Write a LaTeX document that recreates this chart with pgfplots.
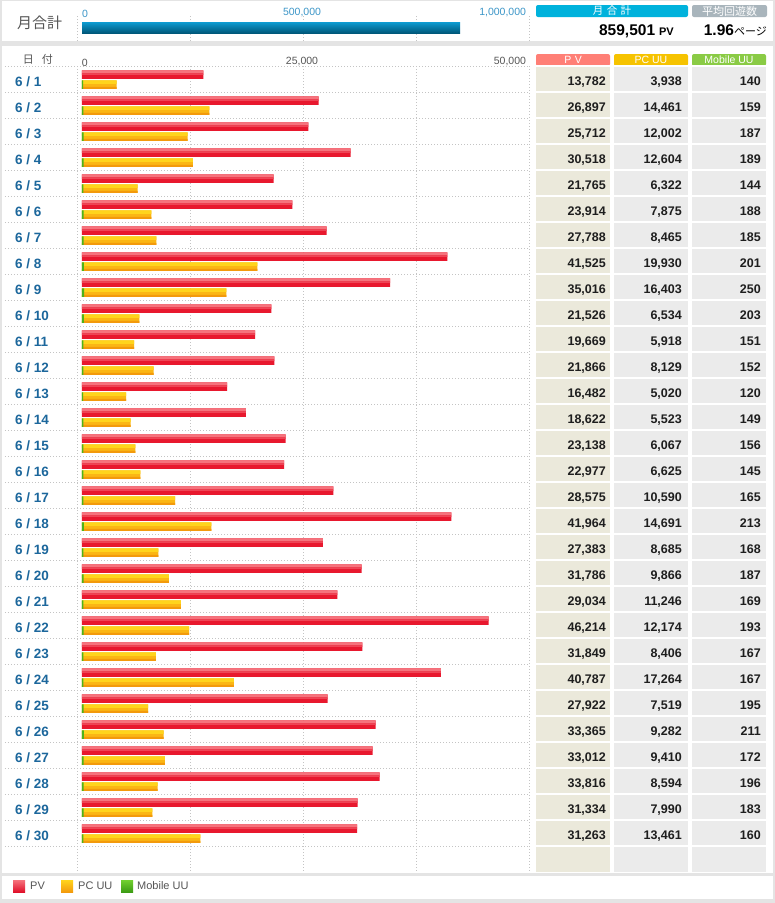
\documentclass[border=0pt]{standalone}
\usepackage{pgfplots}
\pgfplotsset{compat=1.18}
\usepackage{pgfplotstable}
\usepackage{fontspec}
\setmainfont{Liberation Sans}
\newfontfamily\jp{Noto Sans CJK JP}

\definecolor{bggray}{HTML}{E4E4E4}
\definecolor{gridc}{HTML}{C4C4C4}
\definecolor{datec}{HTML}{1C679C}
\definecolor{tickc}{HTML}{555555}
\definecolor{toptickc}{HTML}{3C96C8}
\definecolor{pvtop}{HTML}{F6737D}
\definecolor{pvmid}{HTML}{E8182E}
\definecolor{pvbot}{HTML}{E0102A}
\definecolor{pctop}{HTML}{FFD41C}
\definecolor{pcmid}{HTML}{FBB614}
\definecolor{pcbot}{HTML}{F39A0C}
\definecolor{motop}{HTML}{72D030}
\definecolor{momid}{HTML}{4CB41C}
\definecolor{mobot}{HTML}{3C9C14}
\definecolor{tottop}{HTML}{0E9CD2}
\definecolor{totbot}{HTML}{00587A}
\definecolor{pvhead}{HTML}{FF7F76}
\definecolor{pchead}{HTML}{F6C300}
\definecolor{mohead}{HTML}{8ACB45}
\definecolor{sumhead}{HTML}{00B2DC}
\definecolor{avghead}{HTML}{A9B5BC}
\definecolor{pvcell}{HTML}{EBE9DB}
\definecolor{cellg}{HTML}{EBEBEB}
\definecolor{valc}{HTML}{1E1E1E}

\pgfplotsset{
  sq legend/.style 2 args={legend image code/.code={\path[top color=#1, bottom color=#2] (0pt,-6pt) rectangle (12pt,6pt);}},
  dotgrid/.style={major grid style={gridc, dash pattern=on 1pt off 2pt}},
}

% day, page views, PC unique users, mobile unique users
\pgfplotstableread{
row pv pc mob
1 13782 3938 140
2 26897 14461 159
3 25712 12002 187
4 30518 12604 189
5 21765 6322 144
6 23914 7875 188
7 27788 8465 185
8 41525 19930 201
9 35016 16403 250
10 21526 6534 203
11 19669 5918 151
12 21866 8129 152
13 16482 5020 120
14 18622 5523 149
15 23138 6067 156
16 22977 6625 145
17 28575 10590 165
18 41964 14691 213
19 27383 8685 168
20 31786 9866 187
21 29034 11246 169
22 46214 12174 193
23 31849 8406 167
24 40787 17264 167
25 27922 7519 195
26 33365 9282 211
27 33012 9410 172
28 33816 8594 196
29 31334 7990 183
30 31263 13461 160
}\daily

\begin{document}
\begin{tikzpicture}[x=1pt,y=-1pt]
% panels
\fill[bggray] (0,0) rectangle (775,903);
\fill[white] (2,1) rectangle (773,41);
\fill[white] (2,46) rectangle (773,873);
\fill[white] (2,876) rectangle (773,899);

% top panel texts
\node[anchor=center, inner sep=0pt, text=tickc] at (39.5,23)
  {\jp\fontsize{15}{16}\selectfont 月合計};
\fill[sumhead, rounded corners=2pt] (536,5) rectangle (688,17);
\fill[avghead, rounded corners=2pt] (692,5) rectangle (767,17);
\node[text=white, inner sep=0pt] at (612,11) {\jp\fontsize{10.5}{11}\selectfont 月\,\,合\,\,計};
\node[text=white, inner sep=0pt] at (729.5,11) {\jp\fontsize{11}{11}\selectfont 平均回遊数};
\node[anchor=base east, inner sep=0pt] at (674,35.5)
  {\fontsize{15.5}{16}\selectfont\bfseries 859,501\hspace{4pt}\fontsize{11}{12}\selectfont PV};
\node[anchor=base east, inner sep=0pt] at (767,35.5)
  {\fontsize{15.5}{16}\selectfont\bfseries 1.96\fontsize{11}{12}\selectfont\mdseries\jp ページ};

% main panel header
\node[anchor=base, inner sep=0pt, text=tickc] at (38,63.5)
  {\jp\fontsize{11}{12}\selectfont 日\hspace{8pt}付};

% table cells
\fill[pvcell] (536,66) rectangle (610,872);
\fill[cellg] (614,66) rectangle (688,872);
\fill[cellg] (692,66) rectangle (766,872);
\fill[pvhead, rounded corners=2pt] (536,54) rectangle (610,66);
\fill[pchead, rounded corners=2pt] (614,54) rectangle (688,66);
\fill[mohead, rounded corners=2pt] (692,54) rectangle (766,66);
\node[text=white, inner sep=0pt] at (573,60) {\fontsize{10.5}{11}\selectfont P\,\,V};
\node[text=white, inner sep=0pt] at (651,60) {\fontsize{10.5}{11}\selectfont PC UU};
\node[text=white, inner sep=0pt] at (729,60) {\fontsize{10.5}{11}\selectfont Mobile UU};

% monthly total
\begin{axis}[
  at={(77pt,-16pt)}, anchor=north west,
  scale only axis, width=452pt, height=25pt,
  xmin=-11363.64, xmax=1015909.1, ymin=0, ymax=25,
  axis line style={draw=none}, major tick length=0pt,
  scaled x ticks=false,
  xticklabel pos=upper,
  xtick={0,500000,1000000},
  xticklabels={\rlap{0},{500,000},\llap{1,000,000\kern-4pt}},
  xticklabel style={font=\fontsize{10.5}{12}\selectfont, text=toptickc, anchor=south, inner sep=0pt, yshift=-1.5pt},
  ytick=\empty,
  extra x ticks={-11363.64,245454.5,502272.7,759090.9,1015909.1},
  extra x tick labels={},
  extra x tick style={grid=major},
  dotgrid,
]
\addplot[xbar, bar width=11pt, draw=none, top color=tottop, bottom color=totbot]
  coordinates {(859501,13.5)};
\end{axis}

% daily bars
\begin{axis}[
  at={(5pt,-66pt)}, anchor=north west,
  scale only axis, width=524pt, height=806pt,
  xmin=-8750, xmax=50795.45, ymin=0.5, ymax=31.5, y dir=reverse,
  axis line style={draw=none}, major tick length=0pt,
  scaled x ticks=false,
  xticklabel pos=upper,
  xtick={0,25000,50000},
  xticklabels={\rlap{0},{25,000},\llap{50,000\kern-4pt}},
  xticklabel style={font=\fontsize{10.5}{12}\selectfont, text=tickc, anchor=south, inner sep=0pt, yshift=-0.5pt},
  extra x ticks={-568.18,12272.73,25113.64,37954.55,50795.45},
  extra x tick labels={},
  extra x tick style={grid=major},
  ytick={1,...,30},
  yticklabels={6 / 1,6 / 2,6 / 3,6 / 4,6 / 5,6 / 6,6 / 7,6 / 8,6 / 9,6 / 10,
    6 / 11,6 / 12,6 / 13,6 / 14,6 / 15,6 / 16,6 / 17,6 / 18,6 / 19,6 / 20,
    6 / 21,6 / 22,6 / 23,6 / 24,6 / 25,6 / 26,6 / 27,6 / 28,6 / 29,6 / 30},
  yticklabel style={font=\fontsize{13.5}{14}\selectfont\bfseries, text=datec,
    anchor=base west, inner sep=0pt, xshift=10pt, yshift=-7.5pt},
  extra y ticks={0.5,1.5,...,30.5},
  extra y tick labels={},
  extra y tick style={grid=major},
  dotgrid,
  legend columns=-1,
  legend style={at={(axis description cs:0.0153,-0.0174)}, anchor=west,
    draw=none, fill=none, inner sep=0pt, nodes={inner sep=0pt},
    font=\fontsize{11}{12}\selectfont, text=tickc},
]
% PV
\addplot[xbar, sq legend={pvtop}{pvbot}, bar width=8.5pt, bar shift=4.5pt, draw=none,
  fill=pvmid] table[x=pv, y=row] {\daily};
\addlegendentry{\makebox[36pt][l]{\hspace{5pt}PV}}
\addplot[xbar, forget plot, bar width=3pt, bar shift=7.25pt, draw=none,
  fill=pvtop] table[x=pv, y=row] {\daily};
\addplot[xbar, forget plot, bar width=1.5pt, bar shift=5pt, draw=none,
  fill=pvtop!50!pvmid] table[x=pv, y=row] {\daily};
% PC UU
\addplot[xbar, sq legend={pctop}{pcbot}, bar width=8.5pt, bar shift=-5.5pt, draw=none,
  fill=pcmid] table[x=pc, y=row] {\daily};
\addlegendentry{\makebox[48pt][l]{\hspace{5pt}PC UU}}
\addplot[xbar, forget plot, bar width=3.5pt, bar shift=-3pt, draw=none,
  fill=pctop] table[x=pc, y=row] {\daily};
\addplot[xbar, forget plot, bar width=2pt, bar shift=-8.75pt, draw=none,
  fill=pcbot] table[x=pc, y=row] {\daily};
% Mobile UU
\addplot[xbar, sq legend={motop}{mobot}, bar width=8.5pt, bar shift=-5.5pt, draw=none,
  fill=momid] table[x=mob, y=row] {\daily};
\addlegendentry{\hspace{4pt}Mobile UU}
\end{axis}

% table values
\begin{axis}[
  at={(530pt,-66pt)}, anchor=north west,
  scale only axis, width=243pt, height=806pt,
  xmin=530, xmax=773, ymin=0.5, ymax=31.5, y dir=reverse,
  axis line style={draw=none}, major tick length=0pt,
  xtick=\empty,
  ytick={0.5,1.5,...,30.5}, yticklabels={},
  ymajorgrids, major grid style={white, line width=2pt},
  nodes near coords={\pgfmathprintnumber[fixed,precision=0,1000 sep={,},assume math mode=true]{\pgfplotspointmeta}},
  every node near coord/.append style={anchor=base east, inner sep=0pt, yshift=-6pt,
    font=\fontsize{12.5}{13}\selectfont\bfseries, text=valc},
]
\addplot[draw=none, point meta=\thisrow{pv}] table[x expr=606, y=row] {\daily};
\addplot[draw=none, point meta=\thisrow{pc}] table[x expr=682, y=row] {\daily};
\addplot[draw=none, point meta=\thisrow{mob}] table[x expr=761, y=row] {\daily};
\end{axis}

\pgfresetboundingbox
\path[use as bounding box] (0,0) rectangle (775,903);
\end{tikzpicture}
\end{document}
